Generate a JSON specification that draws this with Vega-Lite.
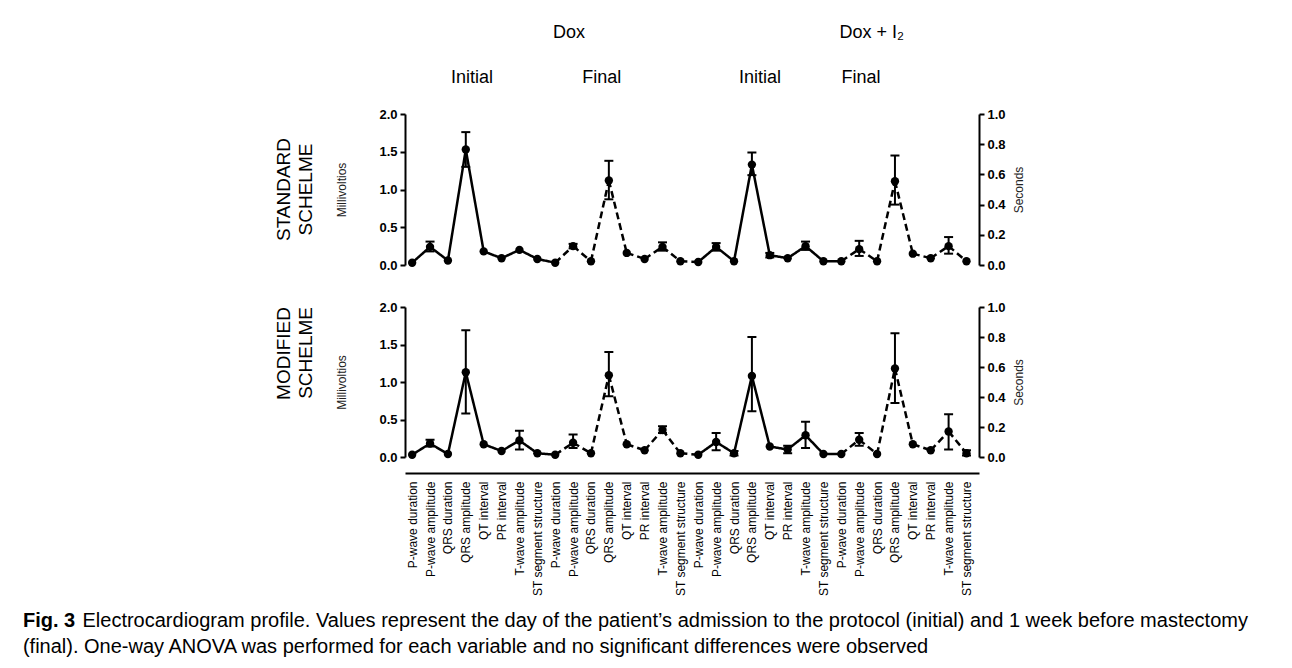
{
  "$schema": "https://vega.github.io/schema/vega-lite/v6.json",
  "padding": {"left": 22, "top": 10, "right": 5, "bottom": 5},
  "background": "white",
  "config": {"font": "Liberation Sans", "view": {"stroke": null}, "axis": {"grid": false}},
  "datasets": {
    "heads": [
      {"label": "Dox", "pos": 8.77, "row": "a"},
      {"label": "Dox + I₂", "pos": 25.7, "row": "a"},
      {"label": "Initial", "pos": 3.35, "row": "b"},
      {"label": "Final", "pos": 10.6, "row": "b"},
      {"label": "Initial", "pos": 19.45, "row": "b"},
      {"label": "Final", "pos": 25.1, "row": "b"}
    ],
    "ecg": [
      {"panel": "STANDARD", "i": 0, "phase": "Initial", "v": 0.03},
      {"panel": "STANDARD", "i": 1, "phase": "Initial", "v": 0.24, "lo": 0.18, "hi": 0.31},
      {"panel": "STANDARD", "i": 2, "phase": "Initial", "v": 0.06},
      {"panel": "STANDARD", "i": 3, "phase": "Initial", "v": 1.53, "lo": 1.30, "hi": 1.76},
      {"panel": "STANDARD", "i": 4, "phase": "Initial", "v": 0.18},
      {"panel": "STANDARD", "i": 5, "phase": "Initial", "v": 0.09},
      {"panel": "STANDARD", "i": 6, "phase": "Initial", "v": 0.20},
      {"panel": "STANDARD", "i": 7, "phase": "Initial", "v": 0.08},
      {"panel": "STANDARD", "i": 8, "phase": "Final", "v": 0.03},
      {"panel": "STANDARD", "i": 9, "phase": "Final", "v": 0.25, "lo": 0.22, "hi": 0.28},
      {"panel": "STANDARD", "i": 10, "phase": "Final", "v": 0.05},
      {"panel": "STANDARD", "i": 11, "phase": "Final", "v": 1.12, "lo": 0.87, "hi": 1.38},
      {"panel": "STANDARD", "i": 12, "phase": "Final", "v": 0.16},
      {"panel": "STANDARD", "i": 13, "phase": "Final", "v": 0.08},
      {"panel": "STANDARD", "i": 14, "phase": "Final", "v": 0.24, "lo": 0.19, "hi": 0.30},
      {"panel": "STANDARD", "i": 15, "phase": "Final", "v": 0.05},
      {"panel": "STANDARD", "i": 16, "phase": "Initial", "v": 0.04},
      {"panel": "STANDARD", "i": 17, "phase": "Initial", "v": 0.24, "lo": 0.19, "hi": 0.29},
      {"panel": "STANDARD", "i": 18, "phase": "Initial", "v": 0.05},
      {"panel": "STANDARD", "i": 19, "phase": "Initial", "v": 1.33, "lo": 1.19, "hi": 1.49},
      {"panel": "STANDARD", "i": 20, "phase": "Initial", "v": 0.13, "lo": 0.10, "hi": 0.16},
      {"panel": "STANDARD", "i": 21, "phase": "Initial", "v": 0.09},
      {"panel": "STANDARD", "i": 22, "phase": "Initial", "v": 0.25, "lo": 0.20, "hi": 0.31},
      {"panel": "STANDARD", "i": 23, "phase": "Initial", "v": 0.05},
      {"panel": "STANDARD", "i": 24, "phase": "Final", "v": 0.05},
      {"panel": "STANDARD", "i": 25, "phase": "Final", "v": 0.21, "lo": 0.12, "hi": 0.32},
      {"panel": "STANDARD", "i": 26, "phase": "Final", "v": 0.05},
      {"panel": "STANDARD", "i": 27, "phase": "Final", "v": 1.11, "lo": 0.80, "hi": 1.45},
      {"panel": "STANDARD", "i": 28, "phase": "Final", "v": 0.15},
      {"panel": "STANDARD", "i": 29, "phase": "Final", "v": 0.09},
      {"panel": "STANDARD", "i": 30, "phase": "Final", "v": 0.25, "lo": 0.15, "hi": 0.37},
      {"panel": "STANDARD", "i": 31, "phase": "Final", "v": 0.05},
      {"panel": "MODIFIED", "i": 0, "phase": "Initial", "v": 0.03},
      {"panel": "MODIFIED", "i": 1, "phase": "Initial", "v": 0.18, "lo": 0.14, "hi": 0.23},
      {"panel": "MODIFIED", "i": 2, "phase": "Initial", "v": 0.04},
      {"panel": "MODIFIED", "i": 3, "phase": "Initial", "v": 1.13, "lo": 0.58, "hi": 1.69},
      {"panel": "MODIFIED", "i": 4, "phase": "Initial", "v": 0.17},
      {"panel": "MODIFIED", "i": 5, "phase": "Initial", "v": 0.08},
      {"panel": "MODIFIED", "i": 6, "phase": "Initial", "v": 0.22, "lo": 0.10, "hi": 0.35},
      {"panel": "MODIFIED", "i": 7, "phase": "Initial", "v": 0.05},
      {"panel": "MODIFIED", "i": 8, "phase": "Final", "v": 0.03},
      {"panel": "MODIFIED", "i": 9, "phase": "Final", "v": 0.19, "lo": 0.12, "hi": 0.30},
      {"panel": "MODIFIED", "i": 10, "phase": "Final", "v": 0.05},
      {"panel": "MODIFIED", "i": 11, "phase": "Final", "v": 1.09, "lo": 0.81, "hi": 1.40},
      {"panel": "MODIFIED", "i": 12, "phase": "Final", "v": 0.17},
      {"panel": "MODIFIED", "i": 13, "phase": "Final", "v": 0.09},
      {"panel": "MODIFIED", "i": 14, "phase": "Final", "v": 0.36, "lo": 0.32, "hi": 0.41},
      {"panel": "MODIFIED", "i": 15, "phase": "Final", "v": 0.05},
      {"panel": "MODIFIED", "i": 16, "phase": "Initial", "v": 0.03},
      {"panel": "MODIFIED", "i": 17, "phase": "Initial", "v": 0.20, "lo": 0.09, "hi": 0.32},
      {"panel": "MODIFIED", "i": 18, "phase": "Initial", "v": 0.05, "lo": 0.02, "hi": 0.08},
      {"panel": "MODIFIED", "i": 19, "phase": "Initial", "v": 1.08, "lo": 0.61, "hi": 1.60},
      {"panel": "MODIFIED", "i": 20, "phase": "Initial", "v": 0.14},
      {"panel": "MODIFIED", "i": 21, "phase": "Initial", "v": 0.10, "lo": 0.05, "hi": 0.15},
      {"panel": "MODIFIED", "i": 22, "phase": "Initial", "v": 0.29, "lo": 0.12, "hi": 0.47},
      {"panel": "MODIFIED", "i": 23, "phase": "Initial", "v": 0.04},
      {"panel": "MODIFIED", "i": 24, "phase": "Final", "v": 0.04},
      {"panel": "MODIFIED", "i": 25, "phase": "Final", "v": 0.23, "lo": 0.15, "hi": 0.32},
      {"panel": "MODIFIED", "i": 26, "phase": "Final", "v": 0.04},
      {"panel": "MODIFIED", "i": 27, "phase": "Final", "v": 1.18, "lo": 0.72, "hi": 1.65},
      {"panel": "MODIFIED", "i": 28, "phase": "Final", "v": 0.17},
      {"panel": "MODIFIED", "i": 29, "phase": "Final", "v": 0.09},
      {"panel": "MODIFIED", "i": 30, "phase": "Final", "v": 0.34, "lo": 0.10, "hi": 0.57},
      {"panel": "MODIFIED", "i": 31, "phase": "Final", "v": 0.05, "lo": 0.02, "hi": 0.09}
    ]
  },
  "title": {
    "text": "Fig. 3",
    "subtitle": ["\u200b\u00a0\u00a0\u00a0\u00a0\u00a0\u00a0\u00a0\u00a0\u00a0\u00a0\u2009Electrocardiogram profile. Values represent the day of the patient’s admission to the protocol (initial) and 1 week before mastectomy", "(final). One-way ANOVA was performed for each variable and no significant differences were observed"],
    "orient": "bottom",
    "anchor": "start",
    "frame": "bounds",
    "dx": -252,
    "offset": 15,
    "font": "Liberation Sans",
    "fontSize": 20,
    "fontWeight": "bold",
    "color": "black",
    "lineHeight": 26,
    "subtitleFont": "Liberation Sans",
    "subtitleFontSize": 20,
    "subtitleFontWeight": "normal",
    "subtitleColor": "black",
    "subtitleLineHeight": 26,
    "subtitlePadding": -20
  },
  "bounds": "flush",
  "spacing": 14,
  "vconcat": [
    {
      "width": 574,
      "height": 90,
      "data": {"name": "heads"},
      "mark": {"type": "text", "fontSize": 18, "color": "black", "baseline": "middle", "align": "center"},
      "encoding": {
        "x": {"field": "pos", "type": "quantitative", "scale": {"domain": [-0.4, 31.7], "nice": false, "zero": false}, "axis": null},
        "y": {"field": "row", "type": "nominal", "scale": {"type": "point", "padding": 0.5}, "axis": null},
        "text": {"field": "label"}
      }
    },
    {
      "bounds": "flush",
      "spacing": 42,
      "vconcat": [
        {
          "width": 574,
          "height": 151,
          "title": {"text": ["STANDARD", "SCHELME"], "orient": "left", "anchor": "middle", "frame": "group", "fontSize": 19, "fontWeight": "normal", "color": "black", "lineHeight": 22, "offset": 20},
          "data": {"name": "ecg"},
          "transform": [{"filter": "datum.panel == 'STANDARD'"}],
          "encoding": {
            "x": {"field": "i", "type": "quantitative", "scale": {"domain": [-0.4, 31.7], "nice": false, "zero": false}, "axis": null}
          },
          "layer": [
            {
              "transform": [
                {"window": [{"op": "lead", "field": "i", "as": "ni"}, {"op": "lead", "field": "v", "as": "nv"}], "sort": [{"field": "i"}]},
                {"filter": "datum.ni != null"}
              ],
              "mark": {"type": "rule", "color": "black", "strokeWidth": 2.5},
              "encoding": {
                "x2": {"field": "ni"},
                "y": {"field": "v", "type": "quantitative", "scale": {"domain": [0, 2], "nice": false},
                  "axis": {"orient": "left", "title": "Millivoltios", "values": [0, 0.5, 1, 1.5, 2], "format": ".1f", "labelFontWeight": "bold", "labelFontSize": 13, "labelColor": "black", "domainColor": "black", "domainWidth": 2, "tickColor": "black", "tickWidth": 2, "tickSize": 5, "labelPadding": 3, "titleFontSize": 12, "titleFontWeight": "normal", "titleColor": "#222", "titlePadding": 30}},
                "y2": {"field": "nv"},
                "strokeDash": {"field": "phase", "type": "nominal", "scale": {"domain": ["Initial", "Final"], "range": [[1, 0], [7, 4]]}, "legend": null}
              }
            },
            {
              "transform": [{"filter": "datum.lo != null"}],
              "mark": {"type": "rule", "color": "black", "strokeWidth": 2},
              "encoding": {"y": {"field": "lo", "type": "quantitative", "axis": null}, "y2": {"field": "hi"}}
            },
            {
              "transform": [{"filter": "datum.lo != null"}],
              "mark": {"type": "tick", "orient": "horizontal", "color": "black", "size": 9, "thickness": 2, "opacity": 1},
              "encoding": {"y": {"field": "lo", "type": "quantitative", "axis": null}}
            },
            {
              "transform": [{"filter": "datum.lo != null"}],
              "mark": {"type": "tick", "orient": "horizontal", "color": "black", "size": 9, "thickness": 2, "opacity": 1},
              "encoding": {"y": {"field": "hi", "type": "quantitative", "axis": null}}
            },
            {
              "mark": {"type": "circle", "color": "black", "size": 70, "opacity": 1},
              "encoding": {"y": {"field": "v", "type": "quantitative", "axis": null}}
            },
            {
              "mark": {"type": "point", "opacity": 0},
              "encoding": {"y": {"field": "v", "type": "quantitative",
                "axis": {"orient": "right", "title": "Seconds", "values": [0, 0.4, 0.8, 1.2, 1.6, 2], "labelExpr": "format(datum.value / 2, '.1f')", "labelFontWeight": "bold", "labelFontSize": 13, "labelColor": "black", "domainColor": "black", "domainWidth": 2, "tickColor": "black", "tickWidth": 2, "tickSize": 5, "labelPadding": 3, "titleFontSize": 12, "titleFontWeight": "normal", "titleColor": "#222", "titlePadding": 8, "titleAngle": 270, "titleBaseline": "top"}}}
            }
          ],
          "resolve": {"axis": {"y": "independent"}}
        },
        {
          "width": 574,
          "height": 150,
          "title": {"text": ["MODIFIED", "SCHELME"], "orient": "left", "anchor": "end", "frame": "group", "fontSize": 19, "fontWeight": "normal", "color": "black", "lineHeight": 22, "offset": 20},
          "data": {"name": "ecg"},
          "transform": [{"filter": "datum.panel == 'MODIFIED'"}],
          "encoding": {
            "x": {"field": "i", "type": "quantitative", "scale": {"domain": [-0.4, 31.7], "nice": false, "zero": false},
              "axis": {"orient": "bottom", "title": null, "values": [0,1,2,3,4,5,6,7,8,9,10,11,12,13,14,15,16,17,18,19,20,21,22,23,24,25,26,27,28,29,30,31], "labelExpr": "['P-wave duration','P-wave amplitude','QRS duration','QRS amplitude','QT interval','PR interval','T-wave amplitude','ST segment structure'][datum.value % 8]", "labelAngle": 270, "labelAlign": "right", "labelBaseline": "middle", "labelFontSize": 12, "labelColor": "black", "labelOverlap": false, "labelBound": false, "labelFlush": false, "domainColor": "black", "domainWidth": 2, "ticks": false, "labelPadding": 8, "offset": 16}}
          },
          "layer": [
            {
              "transform": [
                {"window": [{"op": "lead", "field": "i", "as": "ni"}, {"op": "lead", "field": "v", "as": "nv"}], "sort": [{"field": "i"}]},
                {"filter": "datum.ni != null"}
              ],
              "mark": {"type": "rule", "color": "black", "strokeWidth": 2.5},
              "encoding": {
                "x2": {"field": "ni"},
                "y": {"field": "v", "type": "quantitative", "scale": {"domain": [0, 2], "nice": false},
                  "axis": {"orient": "left", "title": "Millivoltios", "values": [0, 0.5, 1, 1.5, 2], "format": ".1f", "labelFontWeight": "bold", "labelFontSize": 13, "labelColor": "black", "domainColor": "black", "domainWidth": 2, "tickColor": "black", "tickWidth": 2, "tickSize": 5, "labelPadding": 3, "titleFontSize": 12, "titleFontWeight": "normal", "titleColor": "#222", "titlePadding": 30}},
                "y2": {"field": "nv"},
                "strokeDash": {"field": "phase", "type": "nominal", "scale": {"domain": ["Initial", "Final"], "range": [[1, 0], [7, 4]]}, "legend": null}
              }
            },
            {
              "transform": [{"filter": "datum.lo != null"}],
              "mark": {"type": "rule", "color": "black", "strokeWidth": 2},
              "encoding": {"y": {"field": "lo", "type": "quantitative", "axis": null}, "y2": {"field": "hi"}}
            },
            {
              "transform": [{"filter": "datum.lo != null"}],
              "mark": {"type": "tick", "orient": "horizontal", "color": "black", "size": 9, "thickness": 2, "opacity": 1},
              "encoding": {"y": {"field": "lo", "type": "quantitative", "axis": null}}
            },
            {
              "transform": [{"filter": "datum.lo != null"}],
              "mark": {"type": "tick", "orient": "horizontal", "color": "black", "size": 9, "thickness": 2, "opacity": 1},
              "encoding": {"y": {"field": "hi", "type": "quantitative", "axis": null}}
            },
            {
              "mark": {"type": "circle", "color": "black", "size": 70, "opacity": 1},
              "encoding": {"y": {"field": "v", "type": "quantitative", "axis": null}}
            },
            {
              "mark": {"type": "point", "opacity": 0},
              "encoding": {"y": {"field": "v", "type": "quantitative",
                "axis": {"orient": "right", "title": "Seconds", "values": [0, 0.4, 0.8, 1.2, 1.6, 2], "labelExpr": "format(datum.value / 2, '.1f')", "labelFontWeight": "bold", "labelFontSize": 13, "labelColor": "black", "domainColor": "black", "domainWidth": 2, "tickColor": "black", "tickWidth": 2, "tickSize": 5, "labelPadding": 3, "titleFontSize": 12, "titleFontWeight": "normal", "titleColor": "#222", "titlePadding": 8, "titleAngle": 270, "titleBaseline": "top"}}}
            }
          ],
          "resolve": {"axis": {"y": "independent"}}
        }
      ]
    }
  ]
}
